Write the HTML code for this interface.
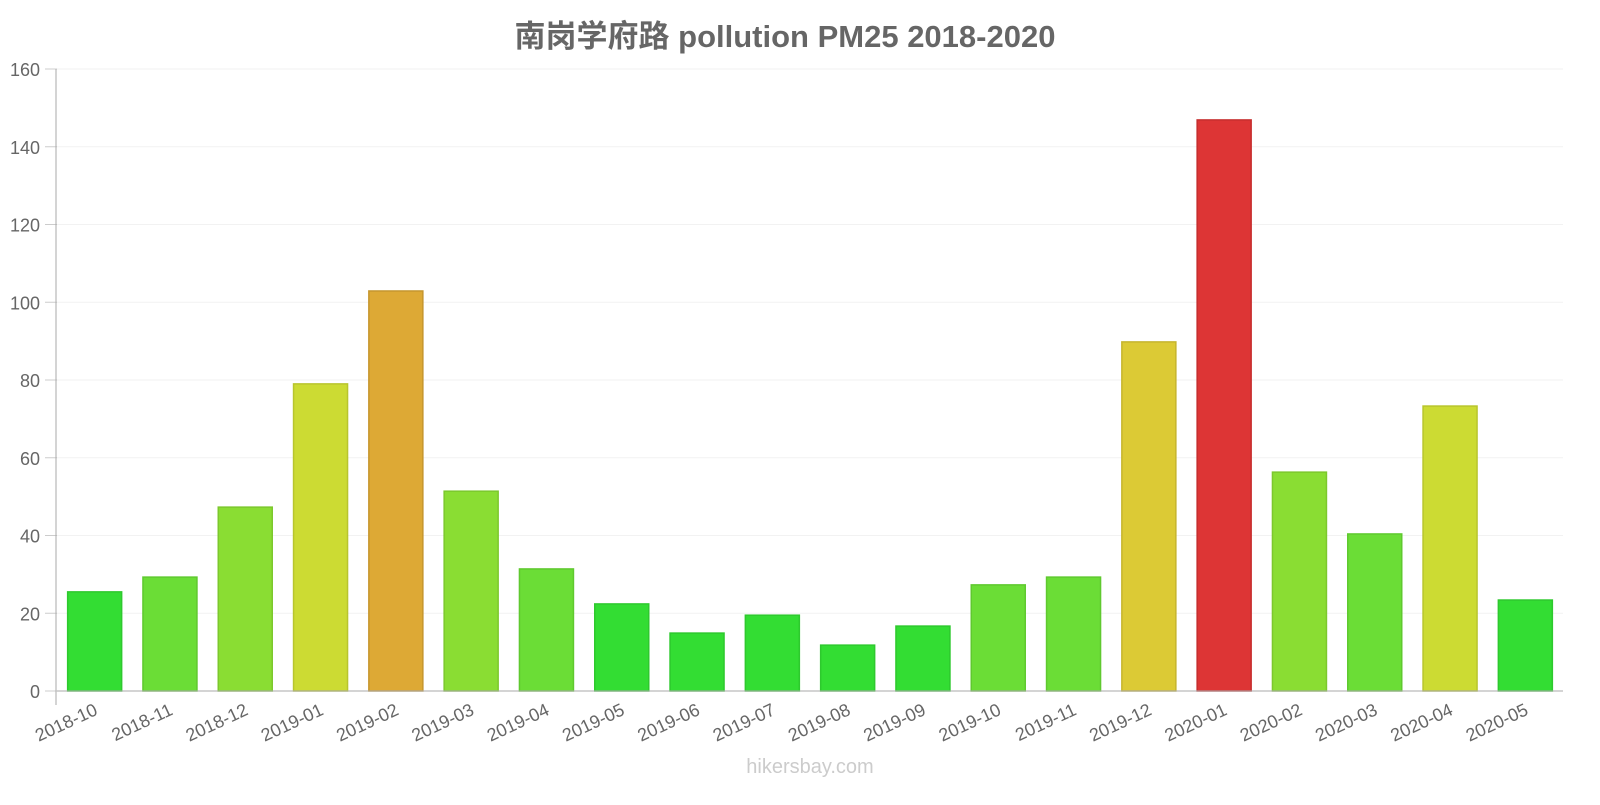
<!DOCTYPE html>
<html><head><meta charset="utf-8"><style>
body{margin:0;background:#fff;width:1600px;height:800px;overflow:hidden}
svg{font-family:"Liberation Sans","Noto Sans CJK SC",sans-serif}
</style></head><body>
<svg id="chart" width="1600" height="800" xmlns="http://www.w3.org/2000/svg">
<text x="785" y="47" text-anchor="middle" font-size="31" font-weight="bold" fill="#666">南岗学府路 pollution PM25 2018-2020</text>
<text x="810" y="773" text-anchor="middle" font-size="20" fill="#ccc">hikersbay.com</text>
<g id="grid"></g><g id="bars"></g><g id="axes"></g>
</svg>
<script>
const categories=["2018-10","2018-11","2018-12","2019-01","2019-02","2019-03","2019-04","2019-05","2019-06","2019-07","2019-08","2019-09","2019-10","2019-11","2019-12","2020-01","2020-02","2020-03","2020-04","2020-05"];
const values=[25.5,29.3,47.3,79,102.9,51.4,31.4,22.4,14.9,19.5,11.8,16.7,27.3,29.3,89.8,146.9,56.3,40.4,73.3,23.4];
const yTicks=[0,20,40,60,80,100,120,140,160];
const NS="http://www.w3.org/2000/svg";
const x0=57,x1=1563,y0=691,yTop=69,yMax=160;
const band=(x1-x0)/categories.length;
const y=v=>y0-(v/yMax)*(y0-yTop);
const xc=i=>x0+band*(i+0.5);
function color(v){if(v<26)return["#33dd33","#2ec92e"];if(v<45)return["#6bdd36","#5fc92f"];if(v<70)return["#8add33","#7cc82d"];if(v<85)return["#ccdb33","#b8c52d"];if(v<100)return["#dcca35","#c6b52e"];if(v<140)return["#dda935","#c6962e"];return["#dd3535","#c62e2e"];}
function mk(tag,attrs,parent){const e=document.createElementNS(NS,tag);for(const k in attrs)e.setAttribute(k,attrs[k]);document.getElementById(parent).appendChild(e);return e;}
yTicks.forEach(t=>{
 const l=mk("line",{x1:x0,x2:x1,y1:y(t),y2:y(t),stroke:"#f2f2f2"},"grid");
 
 
 const tx=mk("text",{x:40,y:y(t)+7,"text-anchor":"end","font-size":"18",fill:"#666"},"axes");
 tx.textContent=t;
 
 
 const tk=mk("line",{x1:45,x2:x0,y1:y(t),y2:y(t),stroke:"#ccc"},"axes");
 
 
});
values.forEach((v,i)=>{
 const c=color(v);const w=54;
 const r=mk("rect",{x:xc(i)-w/2,y:y(v),width:w,height:y0-y(v),fill:c[0],stroke:c[1],"stroke-width":"1.5"},"bars");
 
 
 const t=mk("text",{"text-anchor":"end","font-size":"18",fill:"#666",transform:`translate(${xc(i)+4},${y0+23}) rotate(-25)`},"axes");
 t.textContent=categories[i];
 
 
});
const ax=mk("line",{x1:x0,x2:x1,y1:y0,y2:y0,stroke:"#aaa"},"axes");


const ay=mk("line",{x1:x0-1,x2:x0-1,y1:yTop,y2:705,stroke:"#aaa"},"axes");


</script>
</body></html>
